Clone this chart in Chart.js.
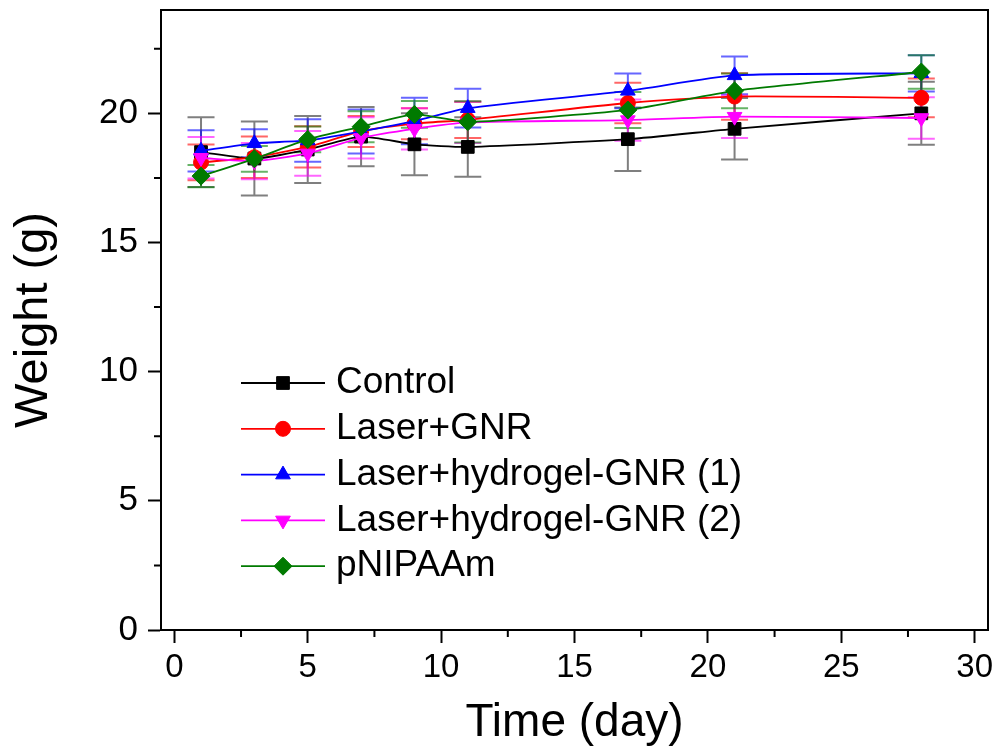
<!DOCTYPE html>
<html>
<head>
<meta charset="utf-8">
<script src="https://cdn.jsdelivr.net/npm/chart.js@4.4.1/dist/chart.umd.min.js"></script>
<style>
  html, body { margin: 0; padding: 0; background: #fff; }
  #wrap { width: 1001px; height: 754px; }
</style>
</head>
<body>
<div id="wrap"><canvas id="graph_weight" width="1001" height="754"></canvas></div>
<script>
// days of measurement
var days = [1, 3, 5, 7, 9, 11, 17, 21, 28];

// body weight (g) and error for each group
var control_w = [18.5, 18.25, 18.6, 19.1, 18.8, 18.7, 19.0, 19.4, 20.0];
var control_err = [1.35, 1.43, 1.3, 1.15, 1.2, 1.15, 1.23, 1.19, 1.22];

var laser_gnr_w = [18.1, 18.3, 18.7, 19.3, 19.6, 19.75, 20.4, 20.65, 20.6];
var laser_gnr_err = [0.69, 0.8, 0.8, 0.6, 0.6, 0.7, 0.78, 0.9, 0.75];

var hydrogel1_w = [18.55, 18.84, 18.95, 19.3, 19.7, 20.2, 20.87, 21.47, 21.55];
var hydrogel1_err = [0.8, 0.54, 0.82, 0.85, 0.9, 0.75, 0.67, 0.73, 0.7];

var hydrogel2_w = [18.28, 18.15, 18.45, 19.05, 19.4, 19.65, 19.74, 19.87, 19.82];
var hydrogel2_err = [0.8, 0.7, 0.87, 0.8, 0.8, 0.8, 0.8, 0.82, 0.8];

var pnipaam_w = [17.57, 18.24, 18.99, 19.48, 19.96, 19.67, 20.13, 20.87, 21.6];
var pnipaam_err = [0.43, 0.5, 0.5, 0.6, 0.52, 0.8, 0.7, 0.67, 0.65];

var series_names = ['Control', 'Laser+GNR', 'Laser+hydrogel-GNR (1)', 'Laser+hydrogel-GNR (2)', 'pNIPAAm'];

var x_minor_ticks = [2.5, 7.5, 12.5, 17.5, 22.5, 27.5];
var y_minor_ticks = [2.5, 7.5, 12.5, 17.5, 22.5];

var FONT = "'Liberation Sans', Arial, sans-serif";

function make_points(values) {
  var pts = [];
  for (let i = 0; i < days.length; i++)
    pts.push({x: days[i], y: values[i]});
  return pts;
}

function make_dataset(name, values, errs, color, err_color, style, radius, rotation, order) {
  return {
    label: name,
    data: make_points(values),
    errors: errs,
    errColor: err_color,
    borderColor: color,
    backgroundColor: color,
    borderWidth: 1.8,
    pointStyle: style,
    pointRadius: radius,
    pointRotation: rotation,
    pointBackgroundColor: color,
    pointBorderColor: color,
    pointBorderWidth: 1,
    tension: 0.2,
    order: order
  };
}

// vertical error bars with caps, drawn under the markers
var error_bars = {
  id: 'error_bars',
  beforeDatasetsDraw: function(chart) {
    var ctx = chart.ctx;
    var xs = chart.scales.x;
    var ys = chart.scales.y;
    chart.data.datasets.forEach(function(ds) {
      ctx.save();
      ctx.strokeStyle = ds.errColor;
      ctx.lineWidth = 2;
      for (let i = 0; i < ds.data.length; i++) {
        var px = xs.getPixelForValue(ds.data[i].x);
        var top = ys.getPixelForValue(ds.data[i].y + ds.errors[i]);
        var bot = ys.getPixelForValue(ds.data[i].y - ds.errors[i]);
        ctx.beginPath();
        ctx.moveTo(px, top); ctx.lineTo(px, bot);
        ctx.moveTo(px - 13.5, top); ctx.lineTo(px + 13.5, top);
        ctx.moveTo(px - 13.5, bot); ctx.lineTo(px + 13.5, bot);
        ctx.stroke();
      }
      ctx.restore();
    });
  }
};

// frame box, minor ticks and the legend inside the plot
var frame_and_legend = {
  id: 'frame_and_legend',
  afterDraw: function(chart) {
    var ctx = chart.ctx;
    var a = chart.chartArea;
    var xs = chart.scales.x;
    var ys = chart.scales.y;
    ctx.save();
    ctx.strokeStyle = '#000';
    ctx.lineWidth = 2;
    ctx.strokeRect(a.left, a.top, a.right - a.left, a.bottom - a.top);

    ctx.beginPath();
    x_minor_ticks.forEach(function(v) {
      var px = xs.getPixelForValue(v);
      ctx.moveTo(px, a.bottom); ctx.lineTo(px, a.bottom + 7);
    });
    y_minor_ticks.forEach(function(v) {
      var py = ys.getPixelForValue(v);
      ctx.moveTo(a.left, py); ctx.lineTo(a.left - 7, py);
    });
    ctx.stroke();

    ctx.font = '37px ' + FONT;
    ctx.textBaseline = 'middle';
    ctx.textAlign = 'left';
    chart.data.datasets.forEach(function(ds, i) {
      var y = 383 + i * 45.8;
      ctx.strokeStyle = ds.borderColor;
      ctx.lineWidth = 1.8;
      ctx.beginPath();
      ctx.moveTo(241, y); ctx.lineTo(325, y);
      ctx.stroke();
      ctx.fillStyle = ds.pointBackgroundColor;
      ctx.strokeStyle = ds.pointBorderColor;
      ctx.lineWidth = 1;
      Chart.helpers.drawPoint(ctx, {
        pointStyle: ds.pointStyle,
        radius: ds.pointRadius,
        rotation: ds.pointRotation,
        borderWidth: 1
      }, 283, y);
      ctx.fillStyle = '#000';
      ctx.fillText(ds.label, 336, y);
    });
    ctx.restore();
  }
};

var ctx = document.getElementById('graph_weight').getContext('2d');
var myChart = new Chart(ctx, {
  type: 'line',
  data: {
    datasets: [
      make_dataset(series_names[0], control_w, control_err, '#000000', 'rgba(0,0,0,0.5)', 'rect', 9, 0, 5),
      make_dataset(series_names[1], laser_gnr_w, laser_gnr_err, '#ff0000', 'rgba(255,0,0,0.6)', 'circle', 7.5, 0, 4),
      make_dataset(series_names[2], hydrogel1_w, hydrogel1_err, '#0000ff', 'rgba(0,0,255,0.6)', 'triangle', 8.5, 0, 3),
      make_dataset(series_names[3], hydrogel2_w, hydrogel2_err, '#ff00ff', 'rgba(255,0,255,0.6)', 'triangle', 8.5, 180, 2),
      make_dataset(series_names[4], pnipaam_w, pnipaam_err, '#007a00', 'rgba(0,128,0,0.6)', 'rectRot', 9, 0, 1)
    ]
  },
  options: {
    responsive: false,
    animation: false,
    devicePixelRatio: 1,
    layout: { padding: { top: 10, right: 13, left: 0, bottom: 0 } },
    plugins: {
      legend: { display: false },
      tooltip: { enabled: false }
    },
    scales: {
      x: {
        type: 'linear',
        min: -0.5,
        max: 30.5,
        afterFit: function(scale) {
          scale.height = 124;
          scale.paddingLeft = 0;
          scale.paddingRight = 0;
        },
        ticks: {
          stepSize: 5,
          includeBounds: false,
          autoSkip: false,
          maxRotation: 0,
          color: '#000',
          padding: 5,
          font: { family: FONT, size: 33 }
        },
        grid: { drawOnChartArea: false, tickLength: 13, tickWidth: 2, tickColor: '#000' },
        border: { display: true, color: '#000', width: 2 },
        title: {
          display: true,
          text: 'Time (day)',
          color: '#000',
          padding: { top: 0, bottom: 3 },
          font: { family: FONT, size: 46 }
        }
      },
      y: {
        min: 0,
        max: 24,
        afterFit: function(scale) {
          scale.width = 161;
          scale.paddingTop = 0;
          scale.paddingBottom = 0;
        },
        ticks: {
          stepSize: 5,
          includeBounds: false,
          color: '#000',
          padding: 10,
          font: { family: FONT, size: 35 }
        },
        grid: { drawOnChartArea: false, tickLength: 13, tickWidth: 2, tickColor: '#000' },
        border: { display: true, color: '#000', width: 2 },
        title: {
          display: true,
          text: 'Weight (g)',
          color: '#000',
          padding: { top: 6, bottom: 0 },
          font: { family: FONT, size: 47 }
        }
      }
    }
  },
  plugins: [error_bars, frame_and_legend]
});
</script>
</body>
</html>
